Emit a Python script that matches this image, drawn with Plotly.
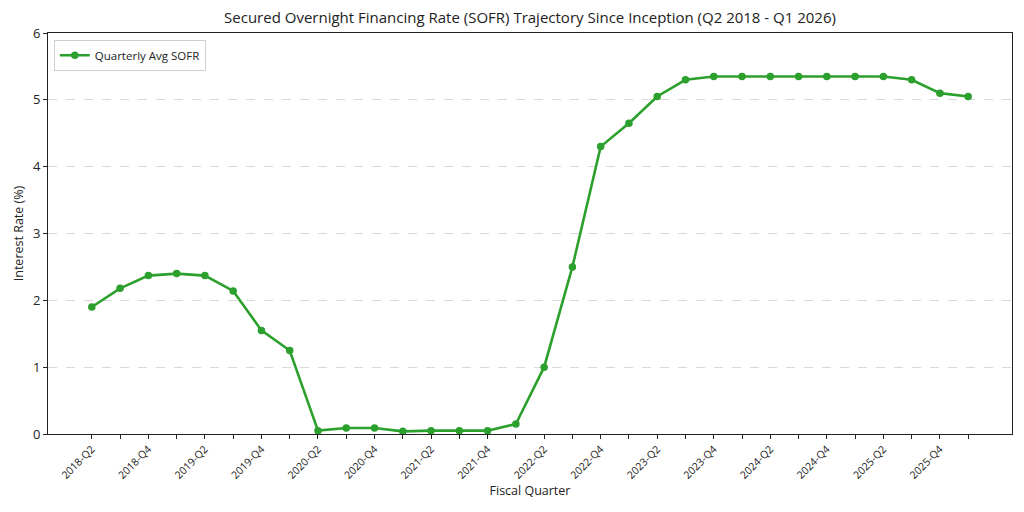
import plotly.graph_objects as go

quarters = [
    "2018-Q2", "2018-Q3", "2018-Q4",
    "2019-Q1", "2019-Q2", "2019-Q3", "2019-Q4",
    "2020-Q1", "2020-Q2", "2020-Q3", "2020-Q4",
    "2021-Q1", "2021-Q2", "2021-Q3", "2021-Q4",
    "2022-Q1", "2022-Q2", "2022-Q3", "2022-Q4",
    "2023-Q1", "2023-Q2", "2023-Q3", "2023-Q4",
    "2024-Q1", "2024-Q2", "2024-Q3", "2024-Q4",
    "2025-Q1", "2025-Q2", "2025-Q3", "2025-Q4",
    "2026-Q1",
]
sofr = [
    1.90, 2.18, 2.37, 2.40, 2.37, 2.14, 1.55, 1.25,
    0.05, 0.09, 0.09, 0.04, 0.05, 0.05, 0.05, 0.15,
    1.00, 2.50, 4.30, 4.65, 5.05, 5.30, 5.35, 5.35,
    5.35, 5.35, 5.35, 5.35, 5.35, 5.30, 5.10, 5.05,
]
tick_labels = [q if i % 2 == 0 else "" for i, q in enumerate(quarters)]
y_ticks = [0, 1, 2, 3, 4, 5, 6]

FONT = "Open Sans"
GREEN = "#2ca02c"
INK = "#222222"

fig = go.Figure()
fig.add_trace(go.Scatter(
    x=quarters, y=sofr, mode="lines+markers", name="Quarterly Avg SOFR",
    line=dict(color=GREEN, width=2.6),
    marker=dict(color=GREEN, size=7.5),
))

fig.update_layout(
    width=1024, height=512,
    margin=dict(l=48, r=12, t=33, b=78),
    paper_bgcolor="white", plot_bgcolor="white",
    font=dict(family=FONT, color=INK),
    title=dict(
        text="Secured Overnight Financing Rate (SOFR) Trajectory Since Inception (Q2 2018 - Q1 2026)",
        x=0.5176, xanchor="center", y=0.965, yanchor="middle",
        font=dict(size=15, family=FONT, color=INK),
    ),
    showlegend=True,
    legend=dict(
        x=0.006, y=0.983, xanchor="left", yanchor="top",
        bgcolor="rgba(255,255,255,0.8)", bordercolor="#d0d0d0", borderwidth=1,
        font=dict(size=11.5, family=FONT, color=INK),
        itemwidth=30,
    ),
)

fig.update_xaxes(
    type="category",
    categoryorder="array", categoryarray=quarters,
    range=[-1.55, 32.55],
    tickmode="array", tickvals=quarters, ticktext=tick_labels,
    tickangle=-45, tickfont=dict(size=10.5, family=FONT, color=INK),
    ticks="outside", ticklen=4, tickcolor=INK, tickwidth=1,
    showline=True, linecolor=INK, linewidth=1, mirror=True,
    showgrid=False, zeroline=False, automargin=False,
    title=dict(text="Fiscal Quarter", font=dict(size=12.5, family=FONT, color=INK), standoff=4),
)
fig.update_yaxes(
    range=[0, 6],
    tickmode="array", tickvals=y_ticks,
    tickfont=dict(size=13, family=FONT, color=INK),
    ticks="outside", ticklen=4, tickcolor=INK, tickwidth=1,
    showline=True, linecolor=INK, linewidth=1, mirror=True,
    showgrid=True, gridcolor="#d9d9d9", griddash="dash", gridwidth=0.8,
    zeroline=False, automargin=False,
    title=dict(text="Interest Rate (%)", font=dict(size=12.5, family=FONT, color=INK), standoff=6),
)

fig.write_html(
    "out.html",
    config={"displayModeBar": False},
    post_script="document.body.style.margin='0px';",
)
